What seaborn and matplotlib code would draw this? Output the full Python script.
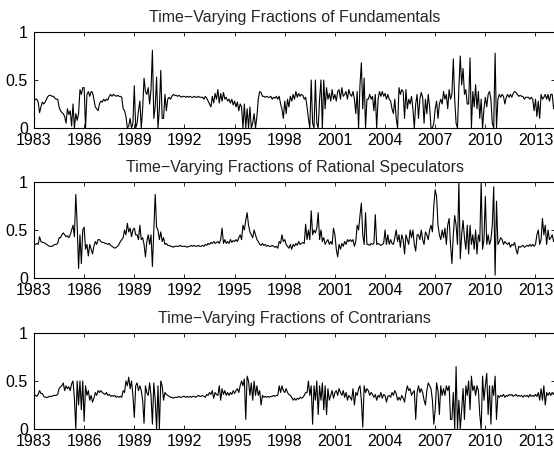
import numpy as np
import pandas as pd
import matplotlib
matplotlib.use("Agg")
import matplotlib.pyplot as plt
import seaborn as sns

start_year = 1983
titles = ["Time\u2212Varying Fractions of Fundamentals",
          "Time\u2212Varying Fractions of Rational Speculators",
          "Time\u2212Varying Fractions of Contrarians"]
tick_years = [1983, 1986, 1989, 1992, 1995, 1998, 2001, 2004, 2007, 2010, 2013]
y_ticks = [0, 0.5, 1]
y_tick_labels = ["0", "0.5", "1"]

# monthly values, one row per year (1983 ... 2014)
fundamentals = [
    0.28, 0.30, 0.30, 0.27, 0.16, 0.22, 0.27, 0.25, 0.27, 0.30, 0.33, 0.34,
    0.34, 0.33, 0.33, 0.31, 0.30, 0.30, 0.22, 0.18, 0.16, 0.15, 0.12, 0.05,
    0.20, 0.14, 0.18, 0.02, 0.25, 0.00, 0.15, 0.08, 0.15, 0.40, 0.35, 0.42,
    0.42, 0.00, 0.35, 0.38, 0.33, 0.38, 0.37, 0.30, 0.22, 0.20, 0.18, 0.25,
    0.28, 0.27, 0.30, 0.28, 0.30, 0.29, 0.33, 0.35, 0.33, 0.35, 0.34, 0.33,
    0.34, 0.33, 0.33, 0.32, 0.20, 0.18, 0.12, 0.00, 0.02, 0.10, 0.00, 0.05,
    0.44, 0.00, 0.05, 0.18, 0.28, 0.00, 0.20, 0.52, 0.38, 0.35, 0.42, 0.25,
    0.40, 0.81, 0.10, 0.22, 0.53, 0.00, 0.20, 0.60, 0.10, 0.10, 0.35, 0.18,
    0.30, 0.32, 0.30, 0.33, 0.35, 0.34, 0.34, 0.33, 0.34, 0.33, 0.32, 0.33,
    0.33, 0.32, 0.33, 0.32, 0.33, 0.32, 0.32, 0.33, 0.32, 0.32, 0.33, 0.32,
    0.32, 0.32, 0.30, 0.33, 0.31, 0.28, 0.25, 0.22, 0.33, 0.26, 0.36, 0.30,
    0.40, 0.26, 0.36, 0.28, 0.37, 0.30, 0.32, 0.28, 0.30, 0.26, 0.30, 0.24,
    0.28, 0.22, 0.27, 0.18, 0.25, 0.22, 0.00, 0.25, 0.00, 0.20, 0.00, 0.22,
    0.00, 0.05, 0.15, 0.00, 0.12, 0.30, 0.38, 0.37, 0.33, 0.33, 0.32, 0.33,
    0.32, 0.32, 0.33, 0.30, 0.32, 0.31, 0.33, 0.30, 0.33, 0.25, 0.20, 0.10,
    0.28, 0.15, 0.30, 0.22, 0.33, 0.28, 0.35, 0.30, 0.38, 0.32, 0.36, 0.33,
    0.35, 0.34, 0.30, 0.32, 0.22, 0.10, 0.00, 0.50, 0.05, 0.00, 0.50, 0.05,
    0.00, 0.30, 0.50, 0.00, 0.50, 0.20, 0.42, 0.30, 0.36, 0.28, 0.40, 0.30,
    0.35, 0.28, 0.38, 0.40, 0.30, 0.42, 0.33, 0.35, 0.38, 0.30, 0.40, 0.35,
    0.33, 0.38, 0.30, 0.15, 0.38, 0.00, 0.45, 0.68, 0.20, 0.52, 0.00, 0.30,
    0.30, 0.35, 0.30, 0.33, 0.18, 0.35, 0.00, 0.30, 0.38, 0.33, 0.38, 0.33,
    0.36, 0.30, 0.35, 0.30, 0.28, 0.20, 0.15, 0.30, 0.10, 0.00, 0.42, 0.35,
    0.40, 0.38, 0.10, 0.40, 0.20, 0.30, 0.25, 0.33, 0.20, 0.00, 0.25, 0.35,
    0.10, 0.30, 0.37, 0.32, 0.05, 0.30, 0.15, 0.35, 0.22, 0.00, 0.00, 0.05,
    0.20, 0.28, 0.10, 0.25, 0.30, 0.25, 0.38, 0.30, 0.35, 0.20, 0.40, 0.30,
    0.35, 0.72, 0.30, 0.05, 0.00, 0.42, 0.75, 0.45, 0.62, 0.35, 0.40, 0.25,
    0.25, 0.73, 0.00, 0.38, 0.22, 0.45, 0.20, 0.38, 0.10, 0.30, 0.00, 0.20,
    0.32, 0.22, 0.35, 0.38, 0.30, 0.05, 0.00, 0.78, 0.00, 0.30, 0.35, 0.32,
    0.35, 0.33, 0.25, 0.32, 0.35, 0.32, 0.35, 0.32, 0.36, 0.38, 0.37, 0.35,
    0.33, 0.34, 0.33, 0.33, 0.30, 0.32, 0.32, 0.32, 0.30, 0.32, 0.30, 0.18,
    0.30, 0.12, 0.28, 0.10, 0.35, 0.30, 0.32, 0.35, 0.30, 0.35, 0.28, 0.35,
    0.35, 0.20, 0.25,
]

rational = [
    0.35, 0.35, 0.36, 0.35, 0.43, 0.38, 0.37, 0.37, 0.36, 0.35, 0.34, 0.33,
    0.33, 0.33, 0.34, 0.35, 0.35, 0.36, 0.42, 0.42, 0.45, 0.47, 0.45, 0.43,
    0.44, 0.42, 0.45, 0.50, 0.55, 0.43, 0.87, 0.55, 0.10, 0.45, 0.15, 0.50,
    0.53, 0.30, 0.35, 0.23, 0.35, 0.30, 0.25, 0.33, 0.38, 0.35, 0.40, 0.40,
    0.38, 0.37, 0.37, 0.36, 0.36, 0.35, 0.36, 0.34, 0.33, 0.32, 0.31, 0.32,
    0.33, 0.35, 0.38, 0.40, 0.42, 0.50, 0.45, 0.57, 0.48, 0.52, 0.43, 0.50,
    0.52, 0.45, 0.45, 0.40, 0.55, 0.40, 0.42, 0.35, 0.22, 0.38, 0.45, 0.35,
    0.45, 0.12, 0.50, 0.87, 0.53, 0.50, 0.40, 0.48, 0.38, 0.42, 0.35, 0.36,
    0.34, 0.34, 0.33, 0.33, 0.32, 0.33, 0.33, 0.33, 0.33, 0.34, 0.33, 0.33,
    0.33, 0.33, 0.32, 0.33, 0.33, 0.34, 0.33, 0.34, 0.33, 0.33, 0.34, 0.33,
    0.33, 0.34, 0.33, 0.35, 0.34, 0.36, 0.35, 0.37, 0.36, 0.38, 0.36, 0.37,
    0.38, 0.36, 0.40, 0.52, 0.36, 0.40, 0.36, 0.38, 0.36, 0.40, 0.37, 0.39,
    0.38, 0.40, 0.38, 0.42, 0.45, 0.40, 0.55, 0.50, 0.60, 0.68, 0.55, 0.48,
    0.45, 0.42, 0.50, 0.45, 0.40, 0.38, 0.35, 0.34, 0.36, 0.34, 0.35, 0.33,
    0.34, 0.33, 0.33, 0.34, 0.33, 0.32, 0.33, 0.31, 0.38, 0.36, 0.45, 0.38,
    0.40, 0.35, 0.33, 0.31, 0.35, 0.30, 0.35, 0.33, 0.36, 0.34, 0.38, 0.35,
    0.36, 0.37, 0.36, 0.56, 0.40, 0.50, 0.40, 0.70, 0.45, 0.50, 0.47, 0.52,
    0.68, 0.40, 0.50, 0.38, 0.42, 0.35, 0.38, 0.40, 0.35, 0.38, 0.35, 0.52,
    0.45, 0.30, 0.22, 0.35, 0.30, 0.36, 0.33, 0.38, 0.35, 0.40, 0.38, 0.40,
    0.38, 0.40, 0.33, 0.38, 0.55, 0.50, 0.65, 0.78, 0.45, 0.35, 0.68, 0.35,
    0.35, 0.34, 0.36, 0.35, 0.36, 0.66, 0.35, 0.36, 0.35, 0.34, 0.35, 0.36,
    0.50, 0.35, 0.45, 0.35, 0.40, 0.36, 0.35, 0.42, 0.50, 0.38, 0.45, 0.32,
    0.45, 0.40, 0.25, 0.45, 0.40, 0.35, 0.50, 0.42, 0.50, 0.35, 0.28, 0.45,
    0.45, 0.40, 0.50, 0.40, 0.35, 0.48, 0.45, 0.40, 0.50, 0.55, 0.48, 0.75,
    0.92, 0.85, 0.55, 0.45, 0.40, 0.50, 0.42, 0.52, 0.35, 0.55, 0.62, 0.35,
    0.15, 0.45, 0.65, 0.55, 0.35, 1.00, 0.20, 0.45, 0.60, 0.42, 0.30, 0.55,
    0.25, 0.55, 0.35, 0.45, 0.30, 0.50, 0.25, 0.45, 0.38, 1.00, 0.30, 0.40,
    0.85, 0.35, 0.45, 0.35, 0.40, 0.55, 0.95, 0.03, 0.80, 0.35, 0.38, 0.42,
    0.40, 0.35, 0.38, 0.36, 0.35, 0.37, 0.32, 0.35, 0.34, 0.37, 0.30, 0.25,
    0.33, 0.32, 0.33, 0.34, 0.32, 0.33, 0.34, 0.33, 0.35, 0.33, 0.35, 0.33,
    0.35, 0.45, 0.50, 0.35, 0.40, 0.62, 0.45, 0.55, 0.35, 0.50, 0.40, 0.42,
    0.45, 0.38, 0.42,
]

contrarians = [
    0.36, 0.35, 0.34, 0.36, 0.40, 0.37, 0.37, 0.34, 0.33, 0.33, 0.33, 0.34,
    0.34, 0.34, 0.35, 0.35, 0.35, 0.36, 0.42, 0.44, 0.45, 0.48, 0.40, 0.45,
    0.42, 0.44, 0.40, 0.47, 0.50, 0.32, 0.00, 0.50, 0.25, 0.50, 0.20, 0.50,
    0.08, 0.45, 0.35, 0.40, 0.30, 0.35, 0.28, 0.32, 0.38, 0.35, 0.40, 0.38,
    0.40, 0.38, 0.37, 0.36, 0.38, 0.35, 0.36, 0.34, 0.35, 0.34, 0.35, 0.33,
    0.34, 0.33, 0.34, 0.33, 0.40, 0.38, 0.50, 0.45, 0.54, 0.42, 0.50, 0.35,
    0.12, 0.45, 0.48, 0.40, 0.45, 0.40, 0.30, 0.06, 0.45, 0.38, 0.35, 0.48,
    0.35, 0.05, 0.48, 0.30, 0.00, 0.45, 0.00, 0.50, 0.45, 0.30, 0.38, 0.36,
    0.35, 0.34, 0.33, 0.33, 0.32, 0.33, 0.33, 0.33, 0.34, 0.33, 0.33, 0.34,
    0.34, 0.33, 0.34, 0.33, 0.34, 0.33, 0.34, 0.34, 0.33, 0.34, 0.35, 0.34,
    0.34, 0.35, 0.34, 0.33, 0.36, 0.35, 0.38, 0.36, 0.40, 0.32, 0.38, 0.36,
    0.35, 0.45, 0.30, 0.42, 0.36, 0.40, 0.35, 0.38, 0.35, 0.38, 0.36, 0.40,
    0.37, 0.40, 0.42, 0.38, 0.45, 0.50, 0.45, 0.52, 0.10, 0.55, 0.50, 0.35,
    0.48, 0.30, 0.50, 0.35, 0.45, 0.35, 0.40, 0.25, 0.35, 0.33, 0.34, 0.33,
    0.34, 0.33, 0.34, 0.34, 0.35, 0.34, 0.35, 0.35, 0.45, 0.38, 0.45, 0.40,
    0.38, 0.42, 0.38, 0.36, 0.35, 0.33, 0.30, 0.32, 0.30, 0.32, 0.31, 0.33,
    0.32, 0.33, 0.35, 0.38, 0.38, 0.50, 0.35, 0.45, 0.05, 0.45, 0.30, 0.50,
    0.15, 0.45, 0.30, 0.48, 0.20, 0.45, 0.15, 0.42, 0.30, 0.35, 0.40, 0.32,
    0.38, 0.40, 0.35, 0.42, 0.38, 0.35, 0.40, 0.33, 0.38, 0.30, 0.35, 0.33,
    0.30, 0.42, 0.25, 0.38, 0.35, 0.42, 0.45, 0.30, 0.02, 0.45, 0.38, 0.42,
    0.40, 0.35, 0.38, 0.36, 0.33, 0.36, 0.30, 0.35, 0.33, 0.38, 0.32, 0.36,
    0.35, 0.28, 0.34, 0.35, 0.33, 0.38, 0.35, 0.40, 0.37, 0.30, 0.33, 0.30,
    0.35, 0.32, 0.28, 0.38, 0.45, 0.40, 0.42, 0.35, 0.38, 0.40, 0.10, 0.38,
    0.45, 0.38, 0.42, 0.38, 0.30, 0.25, 0.40, 0.48, 0.45, 0.42, 0.30, 0.05,
    0.20, 0.48, 0.40, 0.15, 0.45, 0.35, 0.42, 0.35, 0.45, 0.40, 0.45, 0.10,
    0.10, 0.38, 0.00, 0.65, 0.00, 0.30, 0.00, 0.20, 0.42, 0.10, 0.45, 0.35,
    0.50, 0.20, 0.55, 0.40, 0.45, 0.35, 0.45, 0.40, 0.15, 0.00, 0.55, 0.30,
    0.45, 0.58, 0.15, 0.45, 0.05, 0.45, 0.35, 0.55, 0.10, 0.35, 0.33, 0.35,
    0.34, 0.36, 0.33, 0.35, 0.34, 0.36, 0.35, 0.36, 0.34, 0.35, 0.36, 0.34,
    0.35, 0.34, 0.35, 0.33, 0.35, 0.34, 0.35, 0.33, 0.36, 0.34, 0.35, 0.34,
    0.36, 0.34, 0.38, 0.30, 0.42, 0.30, 0.45, 0.25, 0.38, 0.35, 0.38, 0.35,
    0.38, 0.36, 0.40,
]

series = [fundamentals, rational, contrarians]
n = len(fundamentals)
years = start_year + np.arange(n) / 12.0

sns.set_style("ticks")
plt.rcParams["font.family"] = ["Liberation Sans", "DejaVu Sans"]

W, H = 554, 450
fig = plt.figure(figsize=(W / 100, H / 100), dpi=100)
fig.patch.set_facecolor("white")

# axes boxes in pixels: (top, bottom)
boxes = [(32, 128), (182, 278), (333, 429)]
left_px, right_px = 34, 555

for (top, bot), vals, title in zip(boxes, series, titles):
    ax = fig.add_axes([left_px / W, 1 - bot / H, (right_px - left_px) / W, (bot - top) / H])
    df = pd.DataFrame({"year": years, "value": vals})
    sns.lineplot(data=df, x="year", y="value", ax=ax, color="black",
                 linewidth=0.8, estimator=None, sort=False)
    ax.set_xlim(years[0], years[-1])
    ax.set_ylim(0, 1)
    ax.set_xticks(tick_years)
    ax.set_xticklabels([str(y) for y in tick_years])
    ax.set_yticks(y_ticks)
    ax.set_yticklabels(y_tick_labels)
    ax.set_xlabel("")
    ax.set_ylabel("")
    ax.set_title(title, fontsize=11.5, pad=7)
    for s in ax.spines.values():
        s.set_visible(True)
        s.set_color("black")
        s.set_linewidth(0.8)
    ax.tick_params(direction="in", top=True, right=True, length=3, width=0.6,
                   labelsize=11.5, colors="black")
    ax.tick_params(axis="x", pad=3.5)
    ax.tick_params(axis="y", pad=4.5)
    ax.set_facecolor("white")
    ax.grid(False)

fig.savefig("out.png", dpi=100, facecolor="white")
